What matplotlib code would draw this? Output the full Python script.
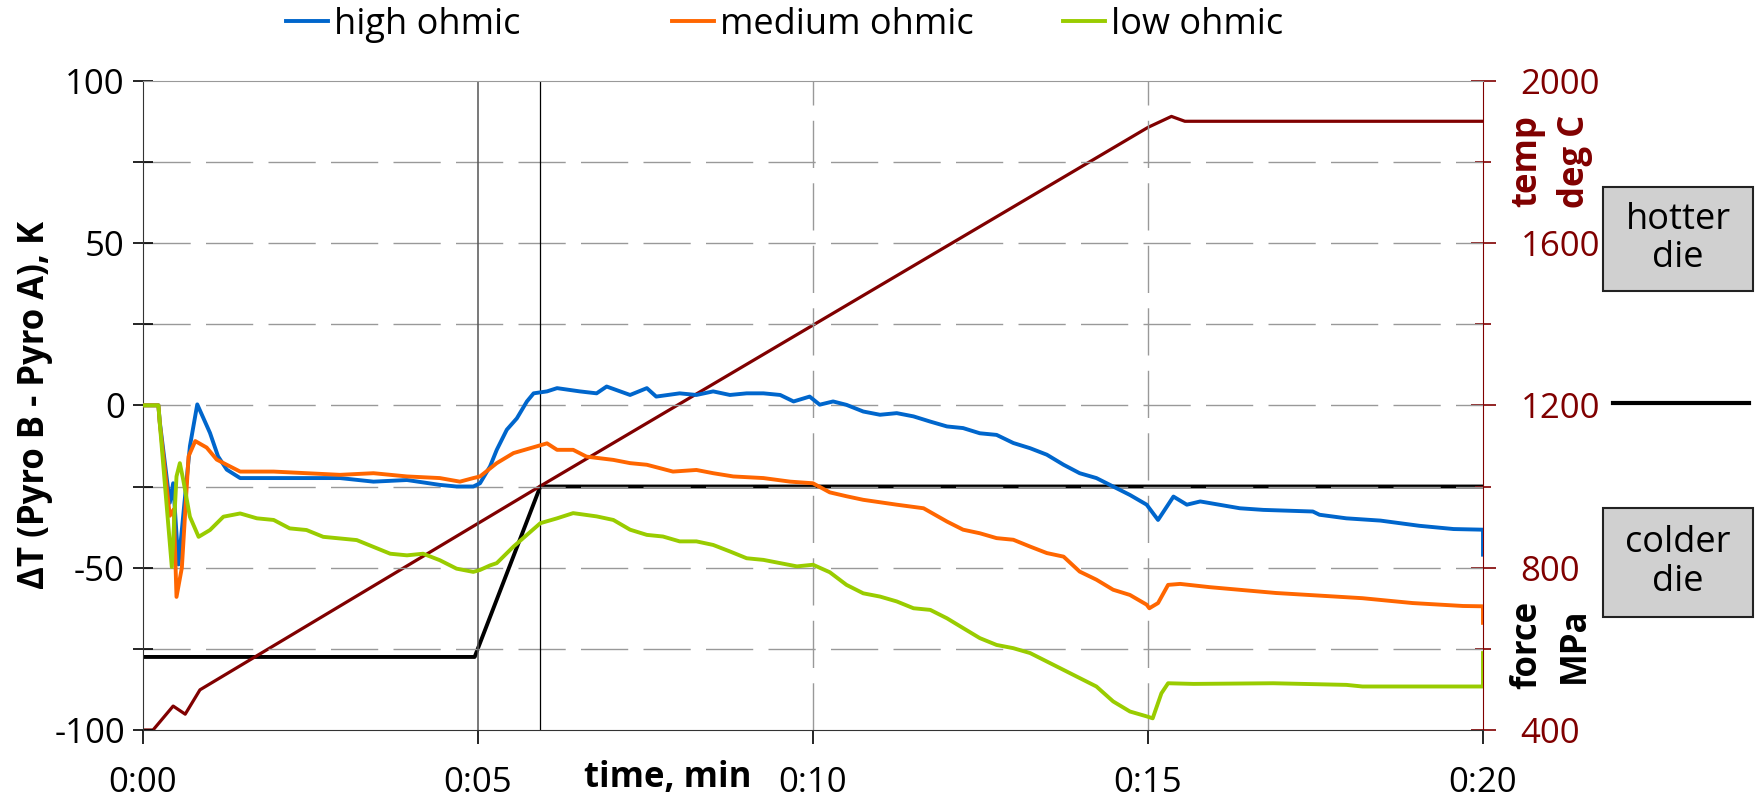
import matplotlib
matplotlib.use("Agg")
import matplotlib.pyplot as plt
from matplotlib.lines import Line2D
from matplotlib.patches import Rectangle
from matplotlib.ticker import MultipleLocator

plt.rcParams['font.family'] = ['Open Sans', 'DejaVu Sans']
plt.rcParams['font.size'] = 25
plt.rcParams['axes.unicode_minus'] = False

# time in minutes, dT in K (Pyro B - Pyro A)
t_high = [0, 0.23, 0.25, 0.40, 0.45, 0.53, 0.70, 0.81, 1.0, 1.12, 1.25, 1.45, 1.95, 2.44,
          2.94, 3.44, 3.94, 4.43, 4.68, 4.93, 5.03, 5.18, 5.28, 5.43, 5.58, 5.73, 5.83, 6.03,
          6.18, 6.52, 6.77, 6.92, 7.27, 7.52, 7.66, 8.01, 8.26, 8.51, 8.76, 9.01, 9.26, 9.51,
          9.71, 9.95, 10.1, 10.3, 10.5, 10.75, 11.0, 11.25, 11.5, 11.75, 12.0, 12.24, 12.49,
          12.74, 12.99, 13.24, 13.49, 13.74, 13.98, 14.23, 14.48, 14.73, 14.98, 15.15, 15.38,
          15.58, 15.78, 16.37, 16.72, 17.46, 17.56, 17.96, 18.47, 19.05, 19.56, 20.0, 20.0]
dT_high = [0, 0, -5, -30, -24, -49, -12.6, 0.3, -8.5, -15.7, -19.8, -22.4, -22.4, -22.4,
           -22.4, -23.5, -23, -24.5, -25, -25, -24, -18.8, -13.7, -7.5, -4, 1.2, 3.7, 4.3,
           5.3, 4.3, 3.7, 5.8, 3.2, 5.3, 2.7, 3.7, 3.2, 4.3, 3.2, 3.7, 3.7, 3.2,
           1.2, 2.7, 0.2, 1.2, 0.15, -1.9, -2.9, -2.4, -3.4, -5, -6.5, -7, -8.6,
           -9.1, -11.6, -13.2, -15.2, -18.3, -20.9, -22.4, -25, -27.6, -30.6, -35.3, -28.1,
           -30.6, -29.6, -31.7, -32.2, -32.7, -33.7, -34.8, -35.5, -37.1, -38.1, -38.3, -46]

t_med = [0, 0.23, 0.25, 0.40, 0.46, 0.50, 0.58, 0.68, 0.78, 0.95, 1.1, 1.25, 1.45, 1.95,
         2.44, 2.94, 3.44, 3.94, 4.43, 4.73, 4.93, 5.03, 5.28, 5.53, 5.78, 6.03, 6.18, 6.42,
         6.62, 7.02, 7.27, 7.52, 7.91, 8.26, 8.51, 8.81, 9.26, 9.66, 10.0, 10.25, 10.5, 10.75,
         11.25, 11.65, 12.0, 12.24, 12.49, 12.74, 12.99, 13.24, 13.49, 13.74, 13.98, 14.23,
         14.48, 14.73, 14.98, 15.02, 15.15, 15.3, 15.48, 15.92, 16.91, 18.2, 18.95, 19.7,
         20.0, 20.0]
dT_med = [0, 0, -5.4, -34, -32, -59, -50, -15.7, -11, -13, -16.7, -18.3, -20.4, -20.4,
          -20.9, -21.4, -20.9, -21.9, -22.4, -23.5, -22.4, -21.9, -17.8, -14.7, -13.2, -11.7,
          -13.7, -13.7, -15.8, -16.8, -17.8, -18.3, -20.4, -19.9, -20.9, -21.9, -22.4, -23.5,
          -24, -26.8, -28, -29.1, -30.6, -31.7, -35.8, -38.3, -39.4, -40.9, -41.4, -43.5,
          -45.5, -46.6, -51.2, -53.7, -56.8, -58.4, -61.4, -62.5, -60.9, -55.3, -55, -56,
          -57.8, -59.4, -60.9, -61.8, -61.9, -67]

t_low = [0, 0.23, 0.25, 0.43, 0.50, 0.55, 0.60, 0.70, 0.83, 1.0, 1.2, 1.45, 1.7, 1.95,
         2.19, 2.44, 2.69, 2.94, 3.19, 3.44, 3.69, 3.94, 4.18, 4.43, 4.68, 4.93, 5.03, 5.18,
         5.28, 5.53, 5.73, 5.93, 6.18, 6.42, 6.77, 7.02, 7.27, 7.52, 7.76, 8.01, 8.26, 8.51,
         8.76, 9.01, 9.26, 9.51, 9.76, 10.0, 10.25, 10.5, 10.75, 11.0, 11.25, 11.5, 11.75,
         12.0, 12.24, 12.49, 12.74, 12.99, 13.24, 13.49, 13.74, 13.98, 14.23, 14.48, 14.73,
         14.98, 15.07, 15.2, 15.3, 15.68, 16.87, 17.96, 18.2, 19.95, 20.0, 20.0]
dT_low = [0, 0, -5.4, -49.8, -21.9, -17.8, -22.9, -34.3, -40.5, -38.4, -34.3, -33.3, -34.8,
          -35.3, -37.9, -38.4, -40.5, -41, -41.5, -43.6, -45.7, -46.2, -45.7, -47.7, -50.3,
          -51.3, -50.7, -49.3, -48.6, -43.5, -39.9, -36.3, -34.8, -33.2, -34.2, -35.3, -38.3,
          -39.9, -40.4, -41.9, -41.9, -43, -45, -47.1, -47.6, -48.6, -49.6, -49.1, -51.4,
          -55.3, -57.9, -58.9, -60.4, -62.5, -63, -65.6, -68.6, -71.7, -73.8, -74.8, -76.3,
          -78.9, -81.5, -84, -86.6, -91.2, -94.3, -95.8, -96.4, -88.7, -85.6, -85.8, -85.6,
          -86.1, -86.6, -86.6, -86.6, -76.3]

# furnace temperature, deg C
t_temp = [0, 0.15, 0.45, 0.63, 0.85, 5.93, 15.0, 15.35, 15.55, 20.0]
temp = [400, 400, 459, 439, 499, 1001, 1885, 1912, 1900, 1900]

# pressing force, MPa
t_force = [0, 4.95, 5.93, 20.0]
force = [15, 15, 50, 50]

time_ticks = [0, 5, 10, 15, 20]
time_labels = ['0:00', '0:05', '0:10', '0:15', '0:20']

c_high, c_med, c_low = '#0066cc', '#ff6600', '#99cc00'
c_temp = '#800000'

fig = plt.figure(figsize=(17.55, 8.0), dpi=100)
ax = fig.add_axes([143 / 1755, 70 / 800, 1340 / 1755, 649.3 / 800])

# grid
for v in [-75, -50, -25, 0, 25, 50, 75]:
    ax.axhline(v, color='#999999', lw=1, ls=(0, (34, 11)), zorder=0)
for v in [10, 15]:
    ax.axvline(v, color='#999999', lw=1, ls=(0, (34, 11)), zorder=0)
ax.axvline(5, color='#555555', lw=1.1, zorder=1)
ax.axvline(5.93, color='black', lw=0.9, zorder=1)

l1, = ax.plot(t_high, dT_high, color=c_high, lw=2.8, label='high ohmic', zorder=3)
l2, = ax.plot(t_med, dT_med, color=c_med, lw=2.8, label='medium ohmic', zorder=3)
l3, = ax.plot(t_low, dT_low, color=c_low, lw=2.8, label='low ohmic', zorder=3)

ax.set_xlim(0, 20)
ax.set_ylim(-100, 100)
ax.set_xticks(time_ticks)
ax.set_xticklabels(time_labels)
ax.yaxis.set_major_locator(MultipleLocator(50))
ax.yaxis.set_minor_locator(MultipleLocator(25))
ax.tick_params(axis='y', which='both', direction='inout', length=14, width=1.2, pad=6)
ax.tick_params(axis='x', direction='out', length=10, width=1.2, pad=16)
ax.spines['top'].set_color('#999999')
ax.spines['right'].set_visible(False)
ax.spines['left'].set_color('#333333')
ax.spines['bottom'].set_color('#333333')
ax.set_ylabel('ΔT (Pyro B - Pyro A), K', fontweight='bold', labelpad=1)
fig.text(668 / 1755, 1 - 778 / 800, 'time, min', fontweight='bold', ha='center', va='center')

# force on hidden third axis
axf = ax.twinx()
axf.plot(t_force, force, color='black', lw=2.8, zorder=4)
axf.set_ylim(0, 133.33)
axf.axis('off')

# temperature axis
axt = ax.twinx()
axt.plot(t_temp, temp, color=c_temp, lw=2.3)
axt.set_ylim(400, 2000)
axt.yaxis.set_major_locator(MultipleLocator(400))
axt.yaxis.set_minor_locator(MultipleLocator(200))
axt.tick_params(axis='y', which='major', direction='inout', length=18, width=1.2,
                colors=c_temp, pad=18)
axt.tick_params(axis='y', which='minor', direction='inout', length=12, width=1.2, colors=c_temp)
for s in ['top', 'left', 'bottom']:
    axt.spines[s].set_visible(False)
axt.spines['right'].set_color(c_temp)
ax.set_zorder(1)
ax.patch.set_visible(False)

fig.text(1551 / 1755, 1 - 161 / 800, 'temp\ndeg C', rotation=90, color=c_temp,
         fontweight='bold', ha='center', va='center', linespacing=1.45, fontsize=25)
fig.text(1551 / 1755, 1 - 645 / 800, 'force\nMPa', rotation=90, color='black',
         fontweight='bold', ha='center', va='center', linespacing=1.45, fontsize=25)

# hotter / colder die boxes
for (y0, y1, txt) in [(187, 291, 'hotter\ndie'), (508, 617, 'colder\ndie')]:
    fig.patches.append(Rectangle((1603 / 1755, 1 - y1 / 800), 150 / 1755, (y1 - y0) / 800,
                                 transform=fig.transFigure, facecolor='#d0d0d0',
                                 edgecolor='#222222', lw=1.5))
    fig.text(1678 / 1755, 1 - (y0 + y1) / 2 / 800, txt, ha='center', va='center',
             linespacing=1.1, fontsize=26)
fig.lines.append(Line2D([1613 / 1755, 1749 / 1755], [1 - 403 / 800, 1 - 403 / 800],
                        transform=fig.transFigure, color='black', lw=3))

# legend entries sit in equal-width slots, like the source chart
for h, x0 in [(l1, 286), (l2, 672), (l3, 1063)]:
    fig.legend(handles=[h], loc='center left', bbox_to_anchor=(x0 / 1755, 1 - 25 / 800),
               frameon=False, fontsize=26, handlelength=1.15, handletextpad=0.17,
               borderpad=0, borderaxespad=0)

fig.savefig('out.png', dpi=100)
